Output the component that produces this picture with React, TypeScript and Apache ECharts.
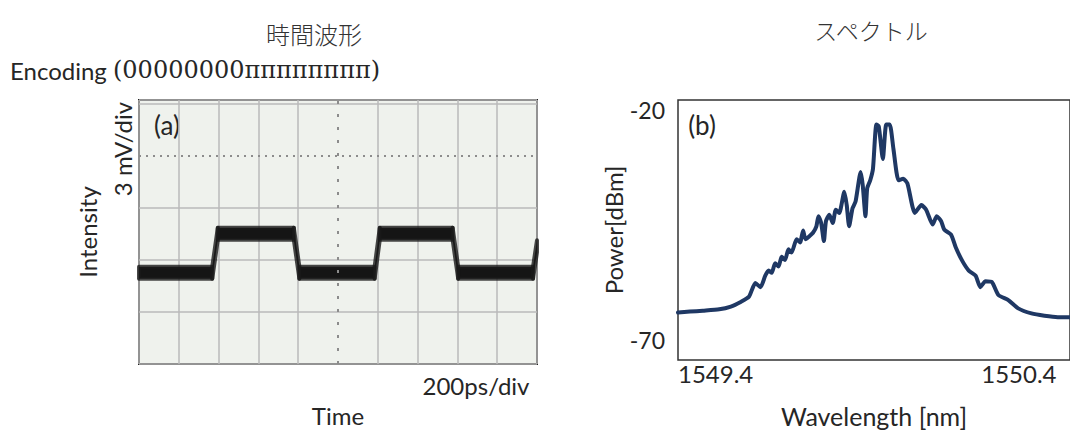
import React, { useEffect, useRef } from "react";
import * as echarts from "echarts";

// Oscilloscope trace (a): time in divisions, lower edge of the noise band and band height (divisions)
const traceTime = [0, 1.84, 1.98, 3.89, 4.03, 5.92, 6.05, 7.88, 8.02, 9.9, 10];
const traceLower = [1.64, 1.64, 2.39, 2.39, 1.64, 1.64, 2.39, 2.39, 1.64, 1.64, 2.15];
const traceSpread = [0.23, 0.23, 0.23, 0.23, 0.23, 0.23, 0.23, 0.23, 0.23, 0.23, 0.23];

// Optical spectrum (b): wavelength [nm] and power [dBm]
const wavelength = [
  1549.4, 1549.435, 1549.473, 1549.521, 1549.555, 1549.584, 1549.608, 1549.627, 1549.642,
  1549.656, 1549.666, 1549.675, 1549.685, 1549.695, 1549.704, 1549.714, 1549.724, 1549.733,
  1549.748, 1549.758, 1549.767, 1549.774, 1549.786, 1549.796, 1549.806, 1549.812, 1549.82,
  1549.828, 1549.834, 1549.844, 1549.854, 1549.863, 1549.873, 1549.888, 1549.895, 1549.902,
  1549.912, 1549.921, 1549.936, 1549.942, 1549.95, 1549.955, 1549.964, 1549.972, 1549.982,
  1549.989, 1550.001, 1550.011, 1550.021, 1550.032, 1550.047, 1550.061, 1550.073, 1550.095,
  1550.114, 1550.128, 1550.147, 1550.159, 1550.172, 1550.181, 1550.201, 1550.215, 1550.234,
  1550.253, 1550.273, 1550.287, 1550.302, 1550.321, 1550.34, 1550.369, 1550.398, 1550.437,
  1550.475, 1550.514, 1550.55,
];
const power = [
  -64.0, -63.8, -63.6, -63.3, -62.7, -61.7, -60.6, -57.6, -58.5,
  -56.0, -54.9, -55.4, -53.3, -54.0, -51.9, -52.6, -50.3, -51.0,
  -48.1, -48.8, -46.2, -48.1, -47.4, -46.7, -45.3, -43.1, -44.6,
  -48.5, -44.2, -42.8, -44.6, -41.7, -42.4, -37.8, -40.7, -45.3,
  -41.4, -39.9, -33.5, -36.4, -43.1, -37.1, -35.3, -32.8, -23.2,
  -23.6, -30.7, -23.2, -23.2, -28.5, -35.3, -35.0, -36.0, -42.4,
  -40.7, -41.7, -44.9, -43.1, -44.2, -46.0, -47.1, -49.9, -52.8,
  -54.9, -56.0, -58.5, -57.2, -57.4, -60.2, -61.3, -63.1, -64.2,
  -64.7, -65.0, -65.0,
];

const spectrumTicks = [1549.4, 1550.4];
const powerTicks = [-70, -20];

const SANS = "Lato, 'Open Sans', sans-serif";
const SERIF = "'DejaVu Serif', serif";
const CJK = "'Noto Sans CJK JP', sans-serif";
const TEXT = "#262626";

function pairs(xs: number[], ys: number[]) {
  return xs.map((x, i) => [x, ys[i]]);
}

// One quadrilateral per pair of neighbouring samples: [t0, lo0, hi0, t1, lo1, hi1]
function bandSegments() {
  const out: number[][] = [];
  for (let i = 0; i < traceTime.length - 1; i++) {
    out.push([
      traceTime[i],
      traceLower[i],
      traceLower[i] + traceSpread[i],
      traceTime[i + 1],
      traceLower[i + 1],
      traceLower[i + 1] + traceSpread[i + 1],
    ]);
  }
  return out;
}

export default function App() {
  const ref = useRef<HTMLDivElement>(null);

  useEffect(() => {
    if (!ref.current) return;
    const chart = echarts.init(ref.current, undefined, { renderer: "svg" });

    const g = "#bababa";
    const xSplitColors = [g, g, g, g, g, "transparent", g, g, g, g, g];
    const ySplitColors = [g, g, g, g, "transparent", g];

    const label = (text: string, x: number, y: number, size: number, extra: any = {}) => ({
      type: "text",
      x,
      y,
      style: {
        text,
        fontFamily: SANS,
        fontSize: size,
        fill: TEXT,
        align: "center",
        verticalAlign: "middle",
        ...extra,
      },
    });

    chart.setOption({
      animation: false,
      backgroundColor: "#ffffff",
      graphic: [
        label("時間波形", 314, 33, 24, { fontFamily: CJK, fontWeight: 300, fill: "#333333" }),
        label("スペクトル", 871, 30, 23, { fontFamily: CJK, fontWeight: 300, fill: "#333333" }),
        {
          type: "text",
          x: 10,
          y: 70,
          style: {
            text: "{s|Encoding }{m|(00000000ππππππππ)}",
            verticalAlign: "middle",
            rich: {
              s: { fontFamily: SANS, fontSize: 24, fill: TEXT },
              m: { fontFamily: SERIF, fontSize: 24, fill: TEXT },
            },
          },
        },
        { ...label("3 mV/div", 122, 149, 24), rotation: Math.PI / 2 },
        label("200ps/div", 476, 385, 24),
        label("(a)", 167, 125, 26),
        label("(b)", 702, 125, 26),
      ],
      grid: [
        {
          left: 139,
          top: 100,
          width: 398,
          height: 264,
          show: true,
          backgroundColor: "#eff2ed",
          borderColor: "#222222",
          borderWidth: 2,
        },
        {
          left: 678,
          top: 100,
          width: 398,
          height: 264,
          show: true,
          backgroundColor: "#ffffff",
          borderColor: "#333333",
          borderWidth: 1.5,
        },
      ],
      xAxis: [
        {
          gridIndex: 0,
          type: "value",
          min: 0,
          max: 10,
          interval: 1,
          name: "Time",
          nameLocation: "middle",
          nameGap: 39,
          nameTextStyle: { fontFamily: SANS, fontSize: 24, color: TEXT },
          axisLine: { show: false },
          axisTick: { show: false },
          axisLabel: { show: false },
          splitLine: { show: true, lineStyle: { color: xSplitColors, width: 1.5 } },
        },
        {
          gridIndex: 1,
          type: "value",
          min: 1549.4,
          max: 1550.55,
          name: "Wavelength [nm]",
          nameLocation: "middle",
          nameGap: 43,
          nameTextStyle: { fontFamily: SANS, fontSize: 25, color: TEXT },
          axisLine: { show: false },
          axisTick: { show: false },
          splitLine: { show: false },
          axisLabel: {
            customValues: spectrumTicks,
            alignMinLabel: "left",
            margin: 1,
            fontFamily: SANS,
            fontSize: 24,
            color: TEXT,
            formatter: (v: number) => v.toFixed(1),
          },
        },
      ],
      yAxis: [
        {
          gridIndex: 0,
          type: "value",
          min: 0,
          max: 5.08,
          interval: 1,
          name: "Intensity",
          nameLocation: "middle",
          nameRotate: 90,
          nameGap: 40,
          nameTextStyle: { fontFamily: SANS, fontSize: 24, color: TEXT },
          axisLine: { show: false },
          axisTick: { show: false },
          axisLabel: { show: false },
          splitLine: { show: true, lineStyle: { color: ySplitColors, width: 1.5 } },
        },
        {
          gridIndex: 1,
          type: "value",
          min: -74.3,
          max: -17.9,
          name: "Power[dBm]",
          nameLocation: "middle",
          nameRotate: 90,
          nameGap: 46,
          nameTextStyle: { fontFamily: SANS, fontSize: 24, color: TEXT },
          axisLine: { show: false },
          axisTick: { show: false },
          splitLine: { show: false },
          axisLabel: {
            customValues: powerTicks,
            margin: 13,
            fontFamily: SANS,
            fontSize: 23,
            color: TEXT,
          },
        },
      ],
      series: [
        {
          type: "custom",
          xAxisIndex: 0,
          yAxisIndex: 0,
          data: bandSegments(),
          encode: { x: [0, 3], y: [1, 2, 4, 5] },
          renderItem: (params: any, api: any) => {
            const a = api.coord([api.value(0), api.value(1)]);
            const b = api.coord([api.value(3), api.value(4)]);
            const c = api.coord([api.value(3), api.value(5)]);
            const d = api.coord([api.value(0), api.value(2)]);
            return {
              type: "polygon",
              shape: { points: [a, b, c, d] },
              style: {
                fill: "#151515",
                stroke: "rgba(25,25,25,0.8)",
                lineWidth: 4,
                lineJoin: "round",
              },
            };
          },
          markLine: {
            silent: true,
            symbol: "none",
            label: { show: false },
            data: [
              { yAxis: 4, lineStyle: { color: "#8c8c8c", width: 2, type: [2, 5] } },
              { xAxis: 5, lineStyle: { color: "#8c8c8c", width: 2, type: [3, 10] } },
            ],
          },
        },
        {
          type: "line",
          xAxisIndex: 1,
          yAxisIndex: 1,
          symbol: "none",
          smooth: 0.2,
          data: pairs(wavelength, power),
          lineStyle: { color: "#1f3864", width: 4, join: "round", cap: "round" },
        },
      ],
    });

    return () => chart.dispose();
  }, []);

  return (
    <div
      ref={ref}
      style={{ position: "absolute", left: 0, top: 0, width: 1070, height: 433, overflow: "hidden" }}
    />
  );
}
